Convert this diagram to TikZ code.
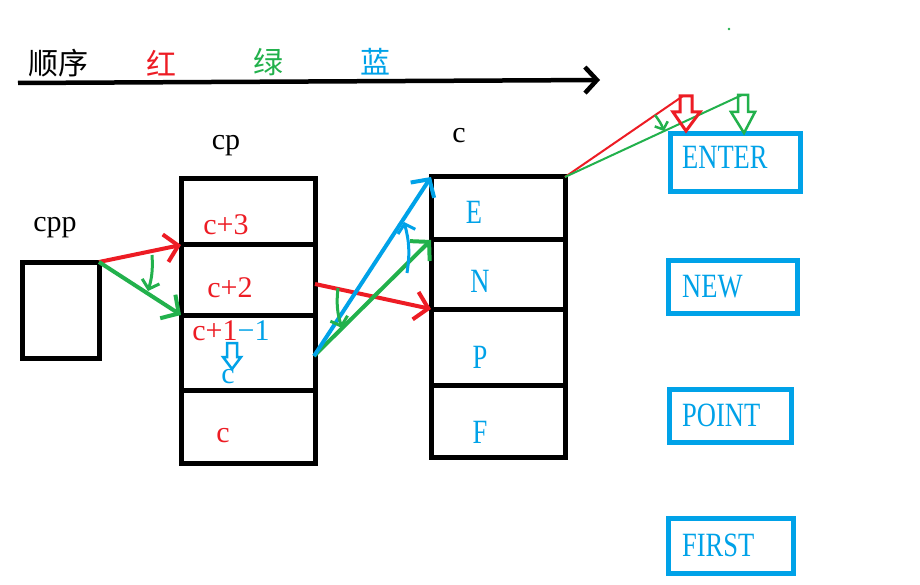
\documentclass[tikz,border=0pt]{standalone}
\usepackage{fontspec}
\setmainfont{Liberation Serif}
\newfontfamily\cjk{Noto Sans CJK SC}
\usetikzlibrary{arrows.meta}
\definecolor{pred}{RGB}{237,28,36}
\definecolor{pgreen}{RGB}{34,177,76}
\definecolor{pblue}{RGB}{0,162,232}
\begin{document}
\begin{tikzpicture}[x=1pt,y=-1pt,
  cell/.style={draw=black,line width=5pt,anchor=north west,minimum width=134pt,inner sep=0pt,outer sep=0pt},
  bbox/.style={draw=pblue,line width=5pt,anchor=north west,inner sep=0pt,outer sep=0pt},
  lbl/.style={font=\fontsize{30}{32}\selectfont,inner sep=0pt},
  blt/.style={font=\fontsize{34}{36}\selectfont,text=pblue,inner sep=0pt,xscale=0.78},
  barb/.style={-{Straight Barb[length=13pt,width=28pt]}},
  arc/.style={line width=3pt,-{Straight Barb[length=8pt,width=18pt]}},
  hollow/.style={line join=miter}
]
\useasboundingbox (0,0) rectangle (920,585);
\fill[white] (0,0) rectangle (920,585);
% title
\node[lbl,font=\cjk\fontsize{30}{32}\selectfont] (t0) at (58,63) {顺序};
\node[lbl,font=\cjk\fontsize{30}{32}\selectfont,text=pred] (t1) at (161,63) {红};
\node[lbl,font=\cjk\fontsize{30}{32}\selectfont,text=pgreen] (t2) at (268,62) {绿};
\node[lbl,font=\cjk\fontsize{30}{32}\selectfont,text=pblue] (t3) at (375,62) {蓝};
\coordinate (ls) at (18,83);
\coordinate (le) at (600,80);
\draw[line width=4.5pt,-{Straight Barb[length=12pt,width=26pt]}] (ls) -- (le);
\fill[pgreen] (729,29) circle (1.3pt);
% labels
\node[lbl] (lcpp) at (55,228) {cpp};
\node[lbl] (lcp) at (226,146) {cp};
\node[lbl] (lc) at (459,136) {c};
% cpp box
\node[cell,minimum width=77pt,minimum height=96pt] (cpp) at (22,262) {};
% cp stack
\node[cell,minimum height=66pt] (cpA) at (181,179) {};
\node[cell,minimum height=70pt] (cpB) at (181,245) {};
\node[cell,minimum height=75pt] (cpC) at (181,315) {};
\node[cell,minimum height=73pt] (cpD) at (181,390) {};
% c stack
\node[cell,minimum height=63pt] (cA) at (431,177) {};
\node[cell,minimum height=69pt] (cB) at (431,240) {};
\node[cell,minimum height=76pt] (cC) at (431,309) {};
\node[cell,minimum height=72pt] (cD) at (431,385) {};
% cp texts
\node[lbl,text=pred] (x3) at (226,225) {c+3};
\node[lbl,text=pred] (x2) at (230,288) {c+2};
\node[lbl] (x1) at (231,331) {\textcolor{pred}{c+1}\textcolor{pblue}{−1}};
\node[lbl,text=pblue] (xc) at (228,377) {c};
\node[lbl,text=pred] (x0) at (223,436) {c};
% c texts
\node[blt] (lE) at (474,212) {E};
\node[blt] (lN) at (480,281) {N};
\node[blt] (lP) at (480,357) {P};
\node[blt] (lF) at (480,432) {F};
% blue boxes
\node[bbox,minimum width=130pt,minimum height=58pt] (bE) at (670,134) {};
\node[bbox,minimum width=129pt,minimum height=53pt] (bN) at (668,260) {};
\node[bbox,minimum width=122pt,minimum height=53pt] (bP) at (669,389) {};
\node[bbox,minimum width=125pt,minimum height=55pt] (bF) at (668,518) {};
\node[blt,anchor=west] (tE) at (682,157) {ENTER};
\node[blt,anchor=west] (tN) at (682,287) {NEW};
\node[blt,anchor=west] (tP) at (682,415) {POINT};
\node[blt,anchor=west] (tF) at (682,545) {FIRST};
% arrows cpp -> cp
\draw[pred,line width=4pt,barb] (cpp.north east) -- (cpA.south west);
\draw[pgreen,line width=4pt,barb] (cpp.north east) -- (cpC.north west);
\coordinate (g1a) at (152,255);
\coordinate (g1b) at (148,291);
\draw[pgreen,arc] (g1a) to[bend left=10] (g1b);
% arrows cp -> c
\coordinate (r2s) at (315,284);
\coordinate (s2) at (314,356);
\draw[pred,line width=4pt,barb] (r2s) -- (cC.north west);
\draw[pgreen,line width=4pt,barb] (s2) -- (cB.north west);
\draw[pblue,line width=4pt,barb] (s2) -- (cA.north west);
\coordinate (g2a) at (338,288);
\coordinate (g2b) at (342,328);
\draw[pgreen,arc] (g2a) to[bend right=12] (g2b);
\coordinate (b2a) at (407,273);
\coordinate (b2b) at (404,222);
\draw[pblue,arc] (b2a) to[bend right=12] (b2b);
% top right
\coordinate (rtop) at (683,96);
\coordinate (gtop) at (742,95);
\draw[pred,line width=2pt] (cA.north east) -- (rtop);
\draw[pgreen,line width=2pt] (cA.north east) -- (gtop);
\coordinate (g3a) at (655,115);
\coordinate (g3b) at (664,131);
\draw[pgreen,line width=2.5pt,-{Straight Barb[length=6pt,width=14pt]}] (g3a) to[bend left=8] (g3b);
% hollow arrows
\draw[pred,line width=3pt,hollow] (680,96) -- (692,96) -- (692,112) -- (700,112) -- (686,131) -- (673,112) -- (680,112) -- cycle;
\draw[pgreen,line width=2.5pt,hollow] (738,95) -- (748,95) -- (748,112) -- (755,112) -- (744,133) -- (731,112) -- (738,112) -- cycle;
\draw[pblue,line width=2.5pt,hollow] (227,343) -- (237,343) -- (237,357) -- (241,357) -- (232,369) -- (223,357) -- (227,357) -- cycle;
\end{tikzpicture}
\end{document}
